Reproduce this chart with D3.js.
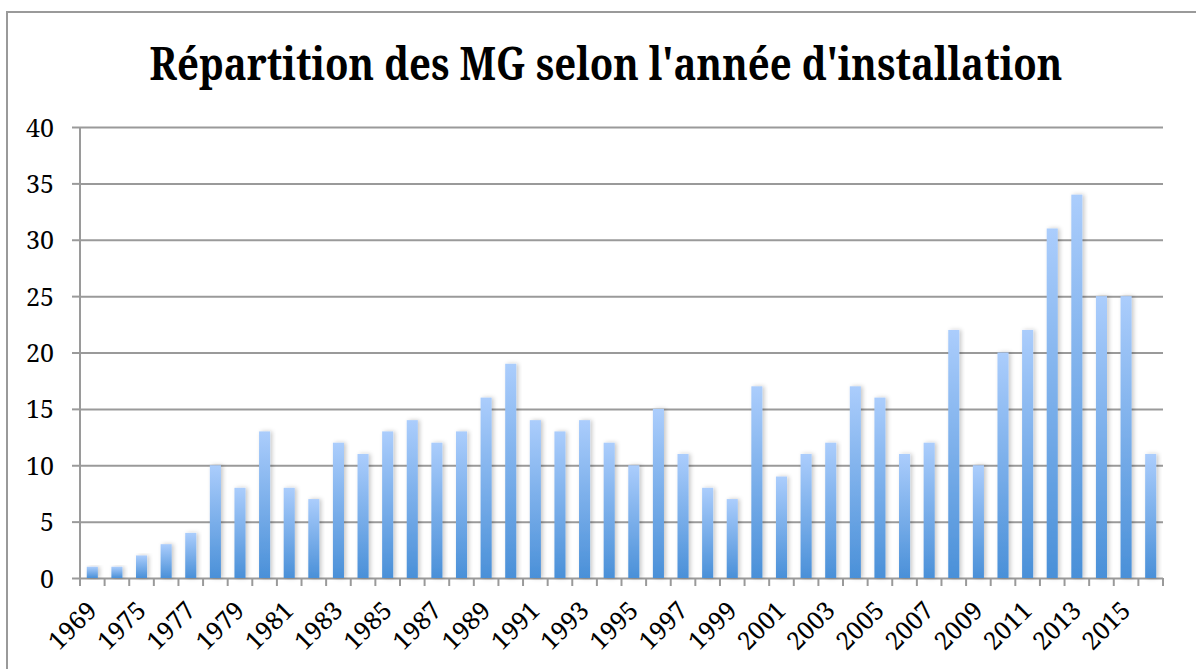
<!DOCTYPE html>
<html>
<head>
<meta charset="utf-8">
<script src="https://cdn.jsdelivr.net/npm/d3@7"></script>
<style>
  html, body { margin: 0; padding: 0; background: #fff; }
  svg { display: block; }
</style>
</head>
<body>
<svg id="chart" width="1196" height="669"></svg>
<script>
const title = "Répartition des MG selon l'année d'installation"

const years = [
  '1969', '1974', '1975', '1976', '1977', '1978', '1979', '1980', '1981', '1982',
  '1983', '1984', '1985', '1986', '1987', '1988', '1989', '1990', '1991', '1992',
  '1993', '1994', '1995', '1996', '1997', '1998', '1999', '2000', '2001', '2002',
  '2003', '2004', '2005', '2006', '2007', '2008', '2009', '2010', '2011', '2012',
  '2013', '2014', '2015', '2016'
]

const counts = [
  1, 1, 2, 3, 4, 10, 8, 13, 8, 7,
  12, 11, 13, 14, 12, 13, 16, 19, 14, 13,
  14, 12, 10, 15, 11, 8, 7, 17, 9, 11,
  12, 17, 16, 11, 12, 22, 10, 20, 22, 31,
  34, 25, 25, 11
]

// only every other year gets a label
const shownLabels = years.filter((v, i) => i % 2 === 0)

const yTicks = [0, 5, 10, 15, 20, 25, 30, 35, 40]

const data = years.map((year, i) => ({ year, value: counts[i] }))

const plotLeft = 80
const plotRight = 1163
const plotTop = 127
const plotBottom = 578

const fontFamily = "'Noto Serif', 'Liberation Serif', serif"
const gridColor = '#9a9a9a'

const svg = d3.select('#chart')

const defs = svg.append('defs')
const grad = defs
  .append('linearGradient')
  .attr('id', 'barGrad')
  .attr('x1', 0).attr('y1', 0)
  .attr('x2', 0).attr('y2', 1)
grad.append('stop').attr('offset', '0%').attr('stop-color', '#abcdfc')
grad.append('stop').attr('offset', '100%').attr('stop-color', '#4a90d8')

const shadow = defs
  .append('filter')
  .attr('id', 'barShadow')
  .attr('x', '-50%').attr('y', '-10%')
  .attr('width', '200%').attr('height', '120%')
shadow
  .append('feDropShadow')
  .attr('dx', 2)
  .attr('dy', 0)
  .attr('stdDeviation', 2)
  .attr('flood-color', '#000')
  .attr('flood-opacity', 0.22)

// outer frame
svg
  .append('rect')
  .attr('x', 7)
  .attr('y', 12)
  .attr('width', 1300)
  .attr('height', 800)
  .attr('fill', 'none')
  .attr('stroke', gridColor)
  .attr('stroke-width', 2)

// title, squeezed horizontally to the width of the original
const titleText = svg
  .append('text')
  .attr('x', 0)
  .attr('y', 0)
  .attr('text-anchor', 'middle')
  .style('font-family', fontFamily)
  .style('font-weight', 'bold')
  .style('font-size', '46px')
  .text(title)
const titleWidth = titleText.node().getComputedTextLength()
titleText.attr('transform', `translate(606, 80) scale(${913 / titleWidth}, 1)`)

const x = d3
  .scaleBand()
  .domain(years)
  .range([plotLeft, plotRight])
  .paddingInner(0.55)
  .paddingOuter(0.275)

const y = d3.scaleLinear().domain([0, 40]).range([plotBottom, plotTop])

// y axis with gridlines
const axisY = d3
  .axisLeft(y)
  .tickValues(yTicks)
  .tickSize(8)
  .tickPadding(18)

const gy = svg
  .append('g')
  .attr('class', 'axis y')
  .attr('transform', `translate(${plotLeft}, 0)`)
  .call(axisY)
gy.select('.domain').remove()
gy.selectAll('.tick line').attr('stroke', gridColor).attr('stroke-width', 2)
gy.selectAll('.tick')
  .append('line')
  .attr('x1', 0)
  .attr('x2', plotRight - plotLeft)
  .attr('stroke', gridColor)
  .attr('stroke-width', 2)
gy.selectAll('.tick text')
  .attr('dy', '0.36em')
  .style('font-family', fontFamily)
  .style('font-size', '25px')
  .style('fill', '#000')

// vertical axis line
svg
  .append('line')
  .attr('x1', plotLeft).attr('x2', plotLeft)
  .attr('y1', y(40)).attr('y2', plotBottom + 8)
  .attr('stroke', gridColor)
  .attr('stroke-width', 2)

// bars
svg
  .append('g')
  .selectAll('rect')
  .data(data)
  .join('rect')
  .attr('x', (d) => x(d.year))
  .attr('y', (d) => y(d.value))
  .attr('width', x.bandwidth())
  .attr('height', (d) => y(0) - y(d.value))
  .attr('fill', 'url(#barGrad)')
  .attr('filter', 'url(#barShadow)')

// x axis: ticks on band boundaries
const step = x.step()
const boundaries = d3.range(years.length + 1).map((i) => plotLeft + i * step)
svg
  .append('g')
  .selectAll('line')
  .data(boundaries)
  .join('line')
  .attr('x1', (d) => d).attr('x2', (d) => d)
  .attr('y1', plotBottom).attr('y2', plotBottom + 8)
  .attr('stroke', gridColor)
  .attr('stroke-width', 2)

const axisX = d3
  .axisBottom(x)
  .tickValues(shownLabels)
  .tickSize(0)
  .tickPadding(0)

const gx = svg
  .append('g')
  .attr('class', 'axis x')
  .attr('transform', `translate(0, ${plotBottom})`)
  .call(axisX)
gx.select('.domain').remove()
gx.selectAll('.tick text')
  .attr('text-anchor', 'end')
  .attr('dy', 0)
  .attr('y', 0)
  .attr('transform', 'translate(6, 34) rotate(-45)')
  .style('font-family', fontFamily)
  .style('font-size', '25px')
  .style('fill', '#000')
</script>
</body>
</html>
